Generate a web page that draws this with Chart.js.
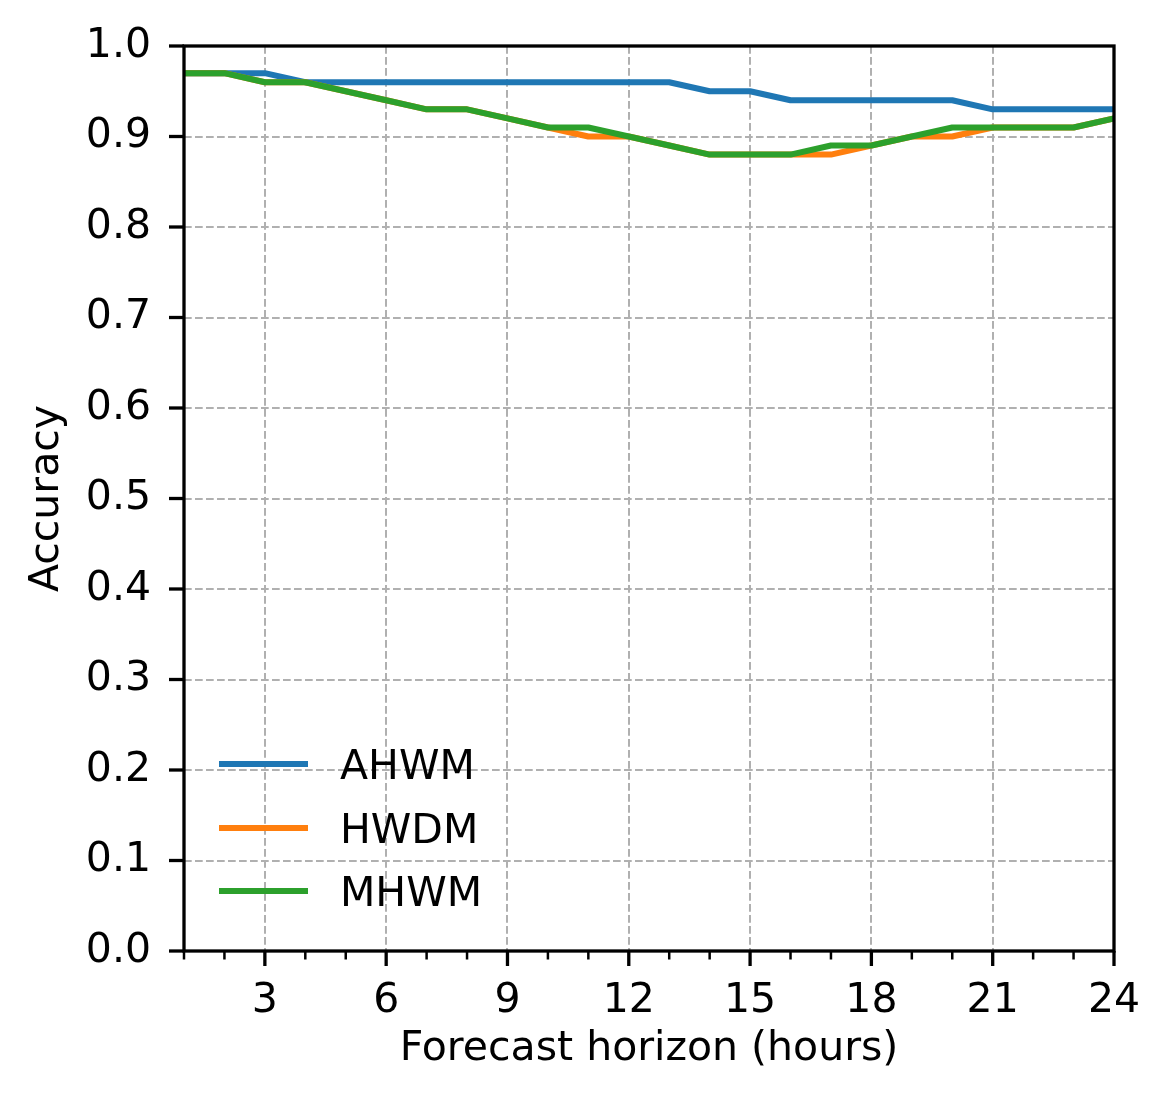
<!DOCTYPE html>
<html>
<head>
<meta charset="utf-8">
<script src="https://cdn.jsdelivr.net/npm/chart.js@4.4.1/dist/chart.umd.min.js"></script>
<style>
html,body{margin:0;padding:0;background:#fff;}
canvas{display:block;}
</style>
</head>
<body>
<canvas id="c" width="1170" height="1112"></canvas>
<script>
const hours = [1,2,3,4,5,6,7,8,9,10,11,12,13,14,15,16,17,18,19,20,21,22,23,24];
const ahwm = [0.97,0.97,0.97,0.96,0.96,0.96,0.96,0.96,0.96,0.96,0.96,0.96,0.96,0.95,0.95,0.94,0.94,0.94,0.94,0.94,0.93,0.93,0.93,0.93];
const hwdm = [0.97,0.97,0.96,0.96,0.95,0.94,0.93,0.93,0.92,0.91,0.90,0.90,0.89,0.88,0.88,0.88,0.88,0.89,0.90,0.90,0.91,0.91,0.91,0.92];
const mhwm = [0.97,0.97,0.96,0.96,0.95,0.94,0.93,0.93,0.92,0.91,0.91,0.90,0.89,0.88,0.88,0.88,0.89,0.89,0.90,0.91,0.91,0.91,0.91,0.92];
const seriesNames = ['AHWM','HWDM','MHWM'];
const seriesColors = ['#1f77b4','#ff7f0e','#2ca02c'];
const xTickLabels = ['3','6','9','12','15','18','21','24'];
const xLabel = 'Forecast horizon (hours)';
const yLabel = 'Accuracy';

const FONT = "'DejaVu Sans', sans-serif";
Chart.defaults.font.family = FONT;
Chart.defaults.color = '#000';

function pts(arr){ return hours.map((h,i)=>({x:h,y:arr[i]})); }
const allSeries = [ahwm, hwdm, mhwm];

const frameAndTicks = {
  id:'frameAndTicks',
  afterDatasetsDraw(chart){
    const {ctx, chartArea:a, scales:{x,y}} = chart;
    ctx.save();
    ctx.strokeStyle = '#000';
    ctx.lineCap = 'butt';
    x.ticks.forEach(t=>{
      const px = x.getPixelForValue(t.value);
      const major = xTickLabels.includes(String(t.value));
      ctx.lineWidth = major ? 3.3 : 2.5;
      ctx.beginPath();
      ctx.moveTo(px, a.bottom);
      ctx.lineTo(px, a.bottom + (major ? 15 : 8.5));
      ctx.stroke();
    });
    y.ticks.forEach(t=>{
      const py = y.getPixelForValue(t.value);
      ctx.lineWidth = 3.3;
      ctx.beginPath();
      ctx.moveTo(a.left, py);
      ctx.lineTo(a.left - 15, py);
      ctx.stroke();
    });
    ctx.lineWidth = 3.3;
    ctx.lineJoin = 'miter';
    ctx.strokeRect(a.left, a.top, a.right - a.left, a.bottom - a.top);
    const lx0 = 219, lx1 = 308, tx = 340;
    const rows = [764, 828, 891];
    ctx.font = '41px ' + FONT;
    ctx.textBaseline = 'alphabetic';
    ctx.textAlign = 'left';
    chart.data.datasets.forEach((ds,i)=>{
      const yy = rows[i];
      ctx.strokeStyle = ds.borderColor;
      ctx.lineWidth = 6;
      ctx.beginPath();
      ctx.moveTo(lx0, yy); ctx.lineTo(lx1, yy); ctx.stroke();
      ctx.fillStyle = '#000';
      ctx.fillText(ds.label, tx, yy + 15);
    });
    ctx.restore();
  }
};

new Chart(document.getElementById('c'), {
  type:'line',
  data:{
    datasets: seriesNames.map((n,i)=>({
      label:n,
      data:pts(allSeries[i]),
      order: seriesNames.length - i,
      borderColor:seriesColors[i],
      backgroundColor:seriesColors[i],
      borderWidth:6,
      pointRadius:0,
      tension:0,
      fill:false,
      borderCapStyle:'butt',
      borderJoinStyle:'round'
    }))
  },
  options:{
    responsive:false,
    animation:false,
    devicePixelRatio:1,
    layout:{autoPadding:false, padding:{left:0, top:46, right:56, bottom:0}},
    plugins:{legend:{display:false}, tooltip:{enabled:false}},
    scales:{
      x:{
        type:'linear', min:1, max:24,
        afterFit(s){ s.height = 161; s.paddingLeft = 0; s.paddingRight = 0; },
        ticks:{
          stepSize:1, autoSkip:false, maxRotation:0,
          padding:26,
          font:{size:41, lineHeight:1.2},
          color:'#000',
          callback:(v)=> xTickLabels.includes(String(v)) ? String(v) : ''
        },
        grid:{
          drawTicks:false,
          lineWidth:2,
          color:(c)=> (c.tick && xTickLabels.includes(String(c.tick.value)) && c.tick.value!==24) ? '#b0b0b0' : 'rgba(0,0,0,0)'
        },
        border:{display:false, dash:[7.7,3.3]},
        title:{display:true, text:xLabel, font:{size:41, lineHeight:1.2}, color:'#000', padding:{top:0,bottom:38}}
      },
      y:{
        type:'linear', min:0, max:1,
        afterFit(s){ s.width = 184; s.paddingTop = 0; s.paddingBottom = 0; },
        ticks:{
          stepSize:0.1, autoSkip:false,
          padding:33,
          font:{size:41, lineHeight:1.2},
          color:'#000',
          callback:(v)=> v.toFixed(1)
        },
        grid:{
          drawTicks:false,
          lineWidth:2,
          color:(c)=> (c.tick && c.tick.value>0.001 && c.tick.value<0.999) ? '#b0b0b0' : 'rgba(0,0,0,0)'
        },
        border:{display:false, dash:[7.7,3.3]},
        title:{display:true, text:yLabel, font:{size:41, lineHeight:1.2}, color:'#000', padding:{top:23,bottom:0}}
      }
    }
  },
  plugins:[frameAndTicks]
});
</script>
</body>
</html>
